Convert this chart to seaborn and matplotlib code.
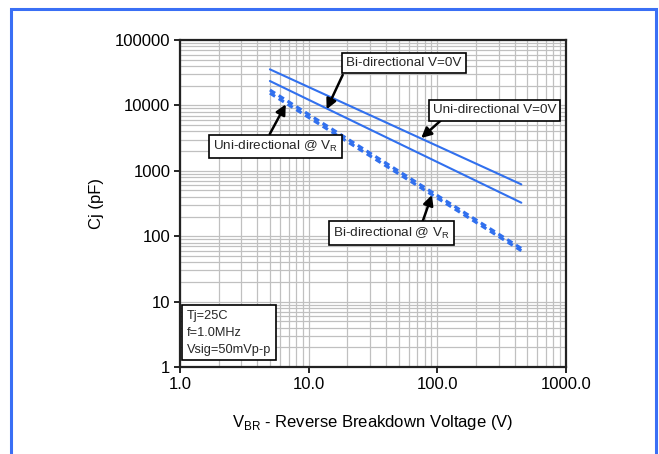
import numpy as np
import pandas as pd
import matplotlib
matplotlib.use("Agg")
import matplotlib.pyplot as plt
import matplotlib.ticker as mticker
from matplotlib.patches import Rectangle
import seaborn as sns

# Junction capacitance vs breakdown voltage
vbr = [5, 450]
uni_0v = [35600, 620]
bi_0v = [23600, 325]
uni_vr = [17200, 65]
bi_vr = [15400, 60]

x_ticks = [1, 10, 100, 1000]
x_tick_labels = ["1.0", "10.0", "100.0", "1000.0"]
y_ticks = [1, 10, 100, 1000, 10000, 100000]
y_tick_labels = ["1", "10", "100", "1000", "10000", "100000"]

LINE_BLUE = "#3170ee"
BORDER_BLUE = "#3a6ff5"
GRID_GRAY = "#c0c0c0"

sns.set_theme(style="white")
plt.rcParams["font.family"] = ["Liberation Sans", "DejaVu Sans"]
plt.rcParams["mathtext.fontset"] = "custom"
plt.rcParams["mathtext.rm"] = "Liberation Sans"

df = pd.DataFrame({
    "vbr": vbr * 4,
    "cj": uni_0v + bi_0v + uni_vr + bi_vr,
    "series": ["uni_0v"] * 2 + ["bi_0v"] * 2 + ["uni_vr"] * 2 + ["bi_vr"] * 2,
})

fig = plt.figure(figsize=(6.59, 4.54), dpi=100)
ax = fig.add_axes([0.2731, 0.1916, 0.5857, 0.7203])

for name in ["uni_0v", "bi_0v"]:
    sns.lineplot(data=df[df.series == name], x="vbr", y="cj", color=LINE_BLUE,
                 linewidth=1.5, ax=ax, zorder=3)
for name in ["uni_vr", "bi_vr"]:
    sns.lineplot(data=df[df.series == name], x="vbr", y="cj", color=LINE_BLUE,
                 linewidth=2.2, linestyle=(0, (2.0, 1.4)), ax=ax, zorder=3)

ax.set_xscale("log")
ax.set_yscale("log")
ax.set_xlim(1, 1000)
ax.set_ylim(1, 100000)
ax.set_xticks(x_ticks)
ax.set_xticklabels(x_tick_labels)
ax.set_yticks(y_ticks)
ax.set_yticklabels(y_tick_labels)
ax.xaxis.set_minor_locator(mticker.LogLocator(base=10, subs=np.arange(2, 10)))
ax.yaxis.set_minor_locator(mticker.LogLocator(base=10, subs=np.arange(2, 10)))
ax.xaxis.set_minor_formatter(mticker.NullFormatter())
ax.yaxis.set_minor_formatter(mticker.NullFormatter())

ax.grid(True, which="both", color=GRID_GRAY, linewidth=0.9)
ax.tick_params(which="major", direction="out", length=4, width=1.2, color="black",
               labelsize=12, labelcolor="black", left=True, bottom=True, pad=3)
ax.tick_params(which="minor", length=0)
for sp in ax.spines.values():
    sp.set_color("#222222")
    sp.set_linewidth(1.6)

ax.set_xlabel(r"V$_\mathregular{BR}$ - Reverse Breakdown Voltage (V)", fontsize=12,
              color="black", labelpad=15)
ax.set_ylabel("Cj (pF)", fontsize=12, color="black", labelpad=8)

box = dict(boxstyle="square,pad=0.3", fc="white", ec="black", lw=1.2)
arrow = dict(arrowstyle="-|>,head_length=0.5,head_width=0.25", color="black", lw=1.8,
             shrinkA=0, shrinkB=0)
FS = 9.7

ax.text(55, 44500, "Bi-directional V=0V", fontsize=FS, ha="center", va="center",
        bbox=box, zorder=5)
ax.annotate("", xy=(13.8, 8700), xytext=(18.4, 29200), arrowprops=arrow, zorder=4)

ax.text(278, 8360, "Uni-directional V=0V", fontsize=FS, ha="center", va="center",
        bbox=box, zorder=5)
ax.annotate("", xy=(75, 3170), xytext=(106, 5830), arrowprops=arrow, zorder=4)

ax.text(5.55, 2330, r"Uni-directional @ V$_\mathregular{R}$", fontsize=FS, ha="center",
        va="center", bbox=box, zorder=5)
ax.annotate("", xy=(6.64, 10400), xytext=(4.99, 3650), arrowprops=arrow, zorder=4)

ax.text(44.2, 112, r"Bi-directional @ V$_\mathregular{R}$", fontsize=FS, ha="center",
        va="center", bbox=box, zorder=5)
ax.annotate("", xy=(90.8, 427), xytext=(77, 169), arrowprops=arrow, zorder=4)

ax.text(0.018, 0.035, "Tj=25C\nf=1.0MHz\nVsig=50mVp-p", transform=ax.transAxes,
        fontsize=9.2, ha="left", va="bottom", linespacing=1.55,
        bbox=dict(boxstyle="square,pad=0.35", fc="white", ec="black", lw=1.2), zorder=5)

fig.patches.append(Rectangle((11 / 659, -0.05), (656 - 11) / 659, 0.98 + 0.05,
                             transform=fig.transFigure, fill=False,
                             edgecolor=BORDER_BLUE, linewidth=2.2))

fig.savefig("out.png", dpi=100, facecolor="white")
